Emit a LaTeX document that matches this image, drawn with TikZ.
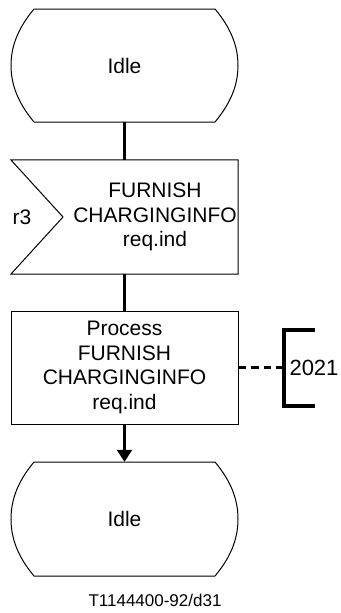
\documentclass[tikz,border=0pt]{standalone}
\usepackage{fontspec}
\setmainfont{Liberation Sans}
\usetikzlibrary{arrows.meta}
\begin{document}
\begin{tikzpicture}[x=1pt,y=-1pt,
  lbl/.style={font=\fontsize{21}{24.5}\selectfont, align=center, inner sep=0pt},
  frame/.style={draw=none, minimum width=227pt, inner sep=0pt},
  outline/.style={line width=1pt, line join=miter},
  conn/.style={line width=2.2pt},
  brk/.style={line width=3.5pt}]
\useasboundingbox (0,0) rectangle (340,613);

% top Idle state
\node[frame, minimum height=113pt] (idle1) at (124.5,65.5) {};
\node[lbl] (idle1t) at (idle1.center) {Idle};
\draw[outline] (34,9) -- (215,9) .. controls (230,27) and (238,45) .. (238,65.5)
  .. controls (238,86) and (230,104) .. (215,122) -- (34,122)
  .. controls (19,104) and (11,86) .. (11,65.5)
  .. controls (11,45) and (19,27) .. (34,9) -- cycle;

% input signal
\node[frame, minimum height=114pt] (sig) at (124.5,217) {};
\draw[outline] (sig.north west) -- (sig.north east) -- (sig.south east) -- (sig.south west) -- (63,217) -- cycle;
\node[lbl] (sigt) at (155,217) {FURNISH\\CHARGINGINFO\\req.ind};
\node[lbl] (r3) at (22,217) {r3};

% process task
\node[frame, minimum height=113pt, draw, line width=1pt] (proc) at (124.5,367.5) {};
\node[lbl] (proct) at (proc.center) {Process\\FURNISH\\CHARGINGINFO\\req.ind};

% bottom Idle state
\node[frame, minimum height=114pt] (idle2) at (124.5,519) {};
\node[lbl] (idle2t) at (idle2.center) {Idle};
\draw[outline] (34,462) -- (215,462) .. controls (230,480) and (238,498) .. (238,519)
  .. controls (238,540) and (230,558) .. (215,576) -- (34,576)
  .. controls (19,558) and (11,540) .. (11,519)
  .. controls (11,498) and (19,480) .. (34,462) -- cycle;

% connectors
\draw[conn] (idle1.south) -- (sig.north);
\draw[conn] (sig.south) -- (proc.north);
\draw[conn, -{Triangle[width=15pt,length=12pt]}] (proc.south) -- (idle2.north);

% comment bracket
\coordinate (bt) at (284,330);
\coordinate (bb) at (284,406);
\coordinate (bm) at (284,367.5);
\draw[brk, line cap=butt] (315,330) -- (bt) -- (bb) -- (315,406);
\draw[conn, dash pattern=on 7.5pt off 5pt] (proc.east) -- (bm);
\node[lbl, font=\fontsize{22}{26}\selectfont] (c2021) at (314,367.5) {2021};

% caption
\node[lbl, font=\fontsize{17}{20}\selectfont] (cap) at (155,600) {T1144400-92/d31};
\end{tikzpicture}
\end{document}
